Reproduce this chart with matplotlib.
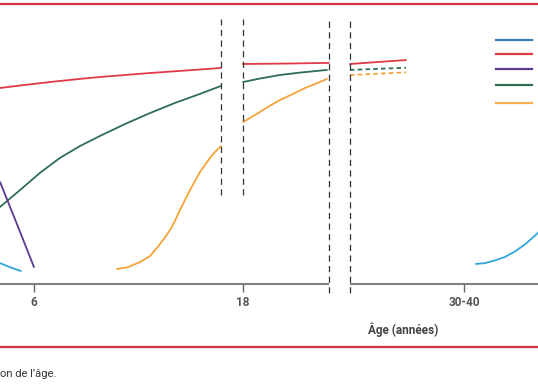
import matplotlib
matplotlib.use("Agg")
import matplotlib.pyplot as plt
from matplotlib.lines import Line2D

plt.rcParams['font.family'] = ['Roboto', 'DejaVu Sans']

# age (years, broken scale) vs. relative level
red_age_1 = [4.05, 5.49, 6.92, 8.36, 9.79, 11.22, 12.66, 14.09, 15.53, 16.73]
red_lvl_1 = [89.1, 90.5, 91.8, 93.0, 94.1, 95.0, 95.9, 96.7, 97.5, 98.2]
red_age_2 = [18.0, 20.47, 22.93]
red_lvl_2 = [100.0, 100.2, 100.5]
red_age_3 = [24.14, 25.75, 27.35]
red_lvl_3 = [100.0, 100.9, 101.8]

green_age_1 = [4.05, 5.20, 6.34, 7.49, 8.64, 9.79, 11.22, 12.66, 14.09, 15.53, 16.73]
green_lvl_1 = [35.0, 42.7, 50.5, 57.3, 62.7, 67.3, 72.7, 77.7, 82.3, 86.4, 90.0]
green_age_2 = [18.0, 18.97, 20.12, 21.27, 22.82]
green_lvl_2 = [91.8, 93.4, 95.0, 96.1, 97.3]
green_age_3 = [24.14, 27.35]
green_lvl_3 = [97.3, 98.3]

orange_age_1 = [10.76, 11.40, 12.09, 12.66, 13.06, 13.46, 13.81, 14.09, 14.38,
                14.67, 14.96, 15.24, 15.53, 15.82, 16.10, 16.39, 16.73]
orange_lvl_1 = [6.8, 7.7, 10.0, 12.7, 16.4, 20.5, 24.5, 28.6, 33.6,
                38.2, 42.7, 46.8, 50.9, 54.1, 57.3, 60.0, 62.7]
orange_age_2 = [18.0, 18.69, 19.43, 20.12, 20.87, 21.56, 22.19, 22.82]
orange_lvl_2 = [73.6, 76.8, 80.5, 83.6, 86.4, 89.1, 91.1, 93.2]
orange_age_3 = [24.14, 27.35]
orange_lvl_3 = [95.0, 96.2]

purple_age = [4.05, 5.02, 6.0]
purple_lvl = [46.4, 27.3, 7.7]

blue_age_1 = [4.05, 4.45, 4.85, 5.25]
blue_lvl_1 = [9.5, 8.2, 7.0, 5.9]
blue_age_2 = [31.37, 31.89, 32.46, 33.04, 33.61, 34.19, 34.93, 35.33]
blue_lvl_2 = [9.1, 9.5, 10.7, 12.3, 14.8, 18.0, 23.2, 26.4]

tick_pos = [6, 18, 30.68]
tick_labels = ['6', '18', '30-40']
breaks_short = [16.73, 18.0]
breaks_long = [22.93, 24.14]

RED = '#e03a45'
GREEN = '#2f6e50'
ORANGE = '#f3a33a'
PURPLE = '#5b3c91'
BLUE = '#2fa6dc'
legend_colors = ['#3b7db8', RED, PURPLE, GREEN, '#f2b050']
legend_rows = [40, 54.3, 69.3, 85.3, 103.3]  # pixel rows of the legend keys

fig = plt.figure(figsize=(5.38, 3.84), dpi=100)
ax = fig.add_axes([0, 0, 1, 1])
ax.axis('off')
ax.set_xlim(4.05, 4.05 + 538 / 17.42)
ax.set_ylim((284 - 384) / 2.2, 284 / 2.2)

lw = 1.3
line_kw = dict(lw=lw, solid_capstyle='round', solid_joinstyle='round')
ax.plot(red_age_1, red_lvl_1, color=RED, **line_kw)
ax.plot(red_age_2, red_lvl_2, color=RED, **line_kw)
ax.plot(red_age_3, red_lvl_3, color=RED, **line_kw)
ax.plot(green_age_1, green_lvl_1, color=GREEN, **line_kw)
ax.plot(green_age_2, green_lvl_2, color=GREEN, **line_kw)
ax.plot(green_age_3, green_lvl_3, color=GREEN, lw=lw, dashes=(2.5, 1.8))
ax.plot(orange_age_1, orange_lvl_1, color=ORANGE, **line_kw)
ax.plot(orange_age_2, orange_lvl_2, color=ORANGE, **line_kw)
ax.plot(orange_age_3, orange_lvl_3, color=ORANGE, lw=lw, dashes=(2.5, 1.8))
ax.plot(purple_age, purple_lvl, color=PURPLE, **line_kw)
ax.plot(blue_age_1, blue_lvl_1, color=BLUE, **line_kw)
ax.plot(blue_age_2, blue_lvl_2, color=BLUE, **line_kw)

# broken x axis
xmin, xmax = ax.get_xlim()
ax.hlines(0, xmin, breaks_long[0], color='#808080', lw=1.5)
ax.hlines(0, breaks_long[1], xmax, color='#808080', lw=1.5)
ax.vlines(tick_pos, -3.8, 0, color='#666666', lw=1.0)
for p, t in zip(tick_pos, tick_labels):
    ax.text(p, -8.2, t, ha='center', va='center', fontsize=8.5,
            fontweight='bold', color='#555555')
ax.text(27.19, -20.9, 'Âge (années)', ha='center', va='center',
        fontsize=8.5, fontweight='bold', color='#444444')

for b in breaks_short:
    ax.plot([b, b], [40.5, 120.5], color='#333333', lw=0.9, dashes=(5, 3.5))
for b in breaks_long:
    ax.plot([b, b], [-4.1, 120.5], color='#333333', lw=0.9, dashes=(5, 3.5))

# legend keys (labels fall outside the crop)
for c, row in zip(legend_colors, legend_rows):
    y = 1 - row / 384
    ax.plot([496 / 538, 532 / 538], [y, y], color=c, lw=1.6,
            transform=ax.transAxes)

# frame rules and caption
fig.add_artist(Line2D([0, 1], [1 - 4 / 384] * 2, color='#d4343f', lw=1.6))
fig.add_artist(Line2D([0, 1], [1 - 347 / 384] * 2, color='#d4343f', lw=1.6))
fig.text(0.0, 1 - 374 / 384, 'on de l’âge.', ha='left', va='center',
         fontsize=8, color='#333333')

fig.savefig('out.png', dpi=100)
